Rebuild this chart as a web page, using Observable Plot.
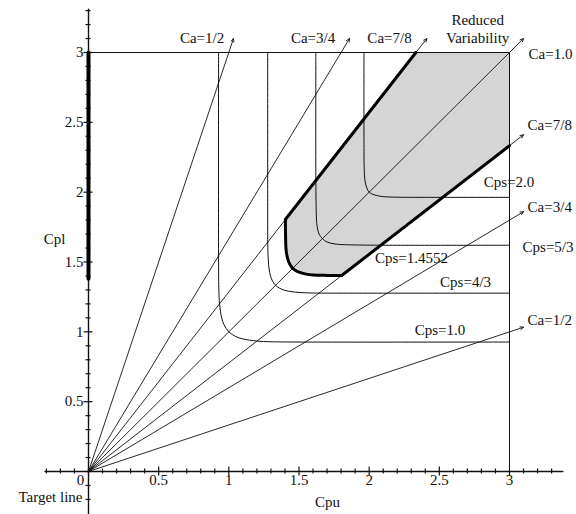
<!DOCTYPE html>
<html><head><meta charset="utf-8">
<script src="https://cdn.jsdelivr.net/npm/d3@7"></script>
<script src="https://cdn.jsdelivr.net/npm/@observablehq/plot@0.6"></script>
<style>html,body{margin:0;padding:0;background:#fff}</style>
</head><body><div id="chart"></div>
<script>
// ---- data ----
const xTickValues = [-0.3,-0.2,-0.1,0,0.1,0.2,0.3,0.4,0.5,0.6,0.7,0.8,0.9,1,1.1,1.2,1.3,1.4,1.5,1.6,1.7,1.8,1.9,2,2.1,2.2,2.3,2.4,2.5,2.6,2.7,2.8,2.9,3,3.1,3.2,3.3];
const yTickValues = [-0.2,-0.1,0,0.1,0.2,0.3,0.4,0.5,0.6,0.7,0.8,0.9,1,1.1,1.2,1.3,1.4,1.5,1.6,1.7,1.8,1.9,2,2.1,2.2,2.3,2.4,2.5,2.6,2.7,2.8,2.9,3,3.1,3.2,3.3];
const majorTickLabels = ["0.5","1","1.5","2","2.5","3"];
const xAxisExtent = [-0.31, 3.38];
const yAxisExtent = [-0.31, 3.31];

// Ca rays from the origin (end points at the arrow tips)
const caRays = [
  {label:"Ca=1/2", x0:0, y0:0, x:1.033, y:3.1},
  {label:"Ca=3/4", x0:0, y0:0, x:1.86,  y:3.1},
  {label:"Ca=7/8", x0:0, y0:0, x:2.411, y:3.1},
  {label:"Ca=1.0", x0:0, y0:0, x:3.1,   y:3.1},
  {label:"Ca=7/8", x0:0, y0:0, x:3.1,   y:2.411},
  {label:"Ca=3/4", x0:0, y0:0, x:3.1,   y:1.86},
  {label:"Ca=1/2", x0:0, y0:0, x:3.1,   y:1.033}
];

// Cps contours (Cpu, Cpl)
const cps10 = [[0.927,3],[0.927,1.5],[0.929,1.3],[0.934,1.2],[0.949,1.1],[0.966,1.05],[1,1],[1.05,0.966],[1.1,0.949],[1.2,0.934],[1.3,0.929],[1.5,0.927],[3,0.927]];
const cps43 = [[1.277,3],[1.277,1.9],[1.278,1.6],[1.282,1.5],[1.287,1.45],[1.297,1.4],[1.313,1.36],[1.333,1.333],[1.36,1.313],[1.4,1.297],[1.45,1.287],[1.5,1.282],[1.6,1.278],[1.9,1.277],[3,1.277]];
const cps53 = [[1.62,3],[1.62,2.1],[1.622,1.9],[1.625,1.8],[1.63,1.75],[1.643,1.7],[1.667,1.667],[1.7,1.643],[1.75,1.63],[1.8,1.625],[1.9,1.622],[2.1,1.62],[3,1.62]];
const cps20 = [[1.963,3],[1.963,2.4],[1.964,2.2],[1.968,2.1],[1.977,2.05],[2,2],[2.05,1.977],[2.1,1.968],[2.2,1.964],[2.4,1.963],[3,1.963]];
const cps14552 = [[1.403,1.804],[1.404,1.7],[1.407,1.6],[1.413,1.55],[1.427,1.5],[1.443,1.47],[1.4552,1.4552],[1.47,1.443],[1.5,1.427],[1.55,1.413],[1.6,1.407],[1.7,1.404],[1.804,1.403]];
const upperCa78Edge = [[2.333,3],[1.403,1.804]];
const lowerCa78Edge = [[1.804,1.403],[3,2.333]];
const frameCorners = [[0,3],[3,3],[3,0]];
const targetLine = [[0,1.38],[0,3]];
const shadedRegion = [[3,3], ...upperCa78Edge, ...cps14552, ...lowerCa78Edge];

const labels = [
  {t:"Ca=1/2", x:0.809, y:3.10, a:"middle"},
  {t:"Ca=3/4", x:1.60, y:3.10, a:"middle"},
  {t:"Ca=7/8", x:2.145, y:3.10, a:"middle"},
  {t:"Reduced", x:2.773, y:3.228, a:"middle"},
  {t:"Variability", x:2.773, y:3.10, a:"middle"},
  {t:"Ca=1.0", x:3.136, y:2.99, a:"start"},
  {t:"Ca=7/8", x:3.129, y:2.477, a:"start"},
  {t:"Cps=2.0", x:2.997, y:2.069, a:"middle"},
  {t:"Ca=3/4", x:3.129, y:1.89, a:"start"},
  {t:"Cps=5/3", x:3.093, y:1.603, a:"start"},
  {t:"Cps=1.4552", x:2.302, y:1.525, a:"middle"},
  {t:"Cps=4/3", x:2.687, y:1.353, a:"middle"},
  {t:"Ca=1/2", x:3.129, y:1.081, a:"start"},
  {t:"Cps=1.0", x:2.505, y:1.009, a:"middle"},
  {t:"Cpl", x:-0.242, y:1.661, a:"middle"},
  {t:"Cpu", x:1.703, y:-0.222, a:"middle"},
  {t:"Target line", x:-0.043, y:-0.186, a:"end"}
];

// ---- styling helpers ----
const PX = 1/140; // one pixel in data units
const isMajor = v => Math.abs(v*2 - Math.round(v*2)) < 1e-9 && Math.abs(v) > 1e-9;
const ink = "#111";
const X = d => d[0], Y = d => d[1];
const labelMarks = ["start","middle","end"].map(a =>
  Plot.text(labels.filter(d => d.a === a), {x: "x", y: "y", text: "t", textAnchor: a, fill: ink}));

const chart = Plot.plot({
  width: 576, height: 514, margin: 0,
  x: {domain: [0, 3], range: [88, 509], axis: null},
  y: {domain: [0, 3], range: [471, 52], axis: null},
  style: {fontFamily: "'Liberation Serif', 'DejaVu Serif', serif", fontSize: "15px", background: "#fff", color: ink},
  marks: [
    Plot.line(shadedRegion, {x: X, y: Y, fill: "#d5d5d5", stroke: "none"}),
    Plot.line(frameCorners, {x: X, y: Y, stroke: ink, strokeWidth: 1}),
    ...[cps10, cps43, cps53, cps20].map(c => Plot.line(c, {x: X, y: Y, curve: "catmull-rom", stroke: ink, strokeWidth: 1})),
    Plot.arrow(caRays, {x1: "x0", y1: "y0", x2: "x", y2: "y", stroke: ink, strokeWidth: 0.9, headLength: 6, headAngle: 50}),
    Plot.line(upperCa78Edge, {x: X, y: Y, stroke: "#000", strokeWidth: 3, strokeLinecap: "round"}),
    Plot.line(lowerCa78Edge, {x: X, y: Y, stroke: "#000", strokeWidth: 3, strokeLinecap: "round"}),
    Plot.line(cps14552, {x: X, y: Y, curve: "catmull-rom", stroke: "#000", strokeWidth: 3, strokeLinecap: "round"}),
    // axes
    Plot.line([[xAxisExtent[0],0],[xAxisExtent[1],0]], {x: X, y: Y, stroke: ink, strokeWidth: 1.4}),
    Plot.line([[0,yAxisExtent[0]],[0,yAxisExtent[1]]], {x: X, y: Y, stroke: ink, strokeWidth: 1.4}),
    Plot.ruleX(xTickValues, {x: d => d, y1: d => (isMajor(d) ? -4.5 : -2.5)*PX, y2: d => (isMajor(d) ? 4.5 : 2.5)*PX, stroke: ink, strokeWidth: 1.2}),
    Plot.ruleY(yTickValues, {y: d => d, x1: d => (isMajor(d) ? -4.5 : -2.5)*PX, x2: d => (isMajor(d) ? 4.5 : 2.5)*PX, stroke: ink, strokeWidth: 1.2}),
    Plot.line(targetLine, {x: X, y: Y, stroke: "#000", strokeWidth: 4}),
    // tick labels
    Plot.text(majorTickLabels, {x: d => +d, y: 0, text: d => d, dy: 9, textAnchor: "middle", fill: ink}),
    Plot.text(majorTickLabels, {x: 0, y: d => +d, text: d => d, dx: -5, textAnchor: "end", fill: ink}),
    Plot.text(["0"], {x: 0, y: 0, text: d => d, dx: -8, dy: 9, fill: ink}),
    // annotations
    ...labelMarks
  ]
});
document.getElementById("chart").append(chart);
</script>
</body></html>
